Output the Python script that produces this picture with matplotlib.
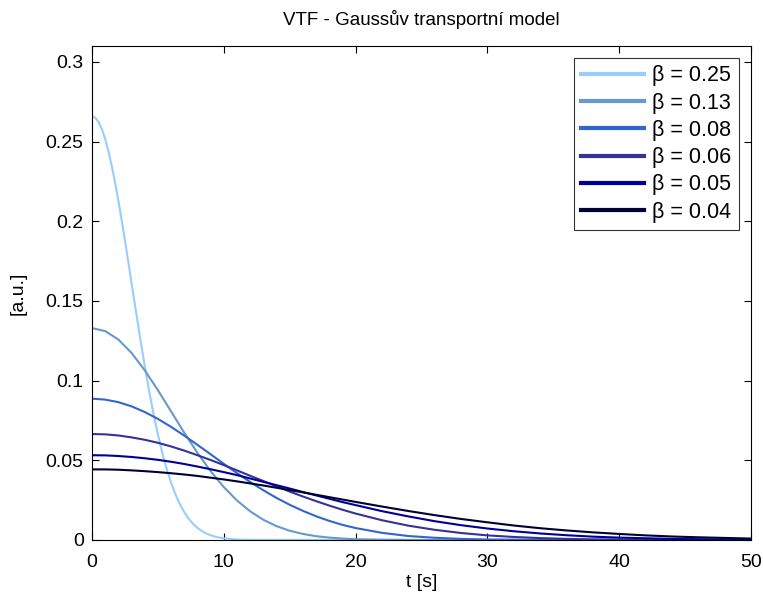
import numpy as np
import matplotlib
matplotlib.use("Agg")
import matplotlib.pyplot as plt

plt.rcParams['font.family'] = ['Liberation Sans', 'DejaVu Sans']

# values
t_fine = [0, 0.25, 0.5, 0.75, 1, 1.25, 1.5, 1.75, 2, 2.25, 2.5, 2.75, 3, 3.25, 3.5,
          3.75, 4, 4.25, 4.5, 4.75, 5, 5.25, 5.5, 5.75, 6, 6.25, 6.5, 6.75, 7, 7.25,
          7.5, 7.75, 8, 8.25, 8.5, 8.75, 9, 9.25, 9.5, 9.75, 10, 10.5, 11, 11.5, 12, 50]
y_025 = [0.2660, 0.2650, 0.2623, 0.2578, 0.2516, 0.2438, 0.2347, 0.2244, 0.2130,
         0.2008, 0.1880, 0.1747, 0.1613, 0.1479, 0.1347, 0.1218, 0.1093, 0.0975,
         0.0863, 0.0759, 0.0663, 0.0575, 0.0495, 0.0424, 0.0360, 0.0304, 0.0254,
         0.0212, 0.0175, 0.0143, 0.0117, 0.0095, 0.0076, 0.0061, 0.0048, 0.0038,
         0.0030, 0.0023, 0.0018, 0.0014, 0.0010, 0.0006, 0.0003, 0.0002, 0.0001, 0.0]

t = [0, 1, 2, 3, 4, 5, 6, 7, 8, 9, 10, 11, 12, 13, 14, 15, 16, 17, 18, 19, 20,
     22, 24, 26, 28, 30, 32, 34, 36, 38, 40, 42, 44, 46, 48, 50]
y_013 = [0.1330, 0.1311, 0.1258, 0.1174, 0.1065, 0.0940, 0.0807, 0.0673, 0.0547,
         0.0432, 0.0332, 0.0248, 0.0180, 0.0127, 0.0087, 0.0058, 0.0038, 0.0024,
         0.0015, 0.0009, 0.0005, 0.0002, 0.0, 0.0, 0.0, 0.0, 0.0, 0.0, 0.0, 0.0,
         0.0, 0.0, 0.0, 0.0, 0.0, 0.0]
y_008 = [0.0887, 0.0881, 0.0865, 0.0839, 0.0803, 0.0760, 0.0710, 0.0655, 0.0597,
         0.0538, 0.0478, 0.0420, 0.0364, 0.0312, 0.0264, 0.0221, 0.0183, 0.0149,
         0.0120, 0.0095, 0.0075, 0.0045, 0.0025, 0.0014, 0.0007, 0.0003, 0.0002,
         0.0001, 0.0, 0.0, 0.0, 0.0, 0.0, 0.0, 0.0, 0.0]
y_006 = [0.0665, 0.0663, 0.0656, 0.0644, 0.0629, 0.0610, 0.0587, 0.0561, 0.0532,
         0.0502, 0.0470, 0.0437, 0.0403, 0.0370, 0.0337, 0.0304, 0.0273, 0.0244,
         0.0216, 0.0190, 0.0166, 0.0124, 0.0090, 0.0064, 0.0044, 0.0029, 0.0019,
         0.0012, 0.0007, 0.0004, 0.0003, 0.0001, 0.0001, 0.0, 0.0, 0.0]
y_005 = [0.0532, 0.0531, 0.0527, 0.0521, 0.0513, 0.0503, 0.0491, 0.0477, 0.0461,
         0.0444, 0.0426, 0.0407, 0.0386, 0.0365, 0.0344, 0.0323, 0.0301, 0.0280,
         0.0259, 0.0238, 0.0219, 0.0181, 0.0148, 0.0118, 0.0093, 0.0072, 0.0055,
         0.0041, 0.0030, 0.0021, 0.0015, 0.0011, 0.0007, 0.0005, 0.0003, 0.0002]
y_004 = [0.0443, 0.0443, 0.0441, 0.0437, 0.0432, 0.0426, 0.0419, 0.0411, 0.0402,
         0.0391, 0.0380, 0.0368, 0.0355, 0.0342, 0.0328, 0.0313, 0.0299, 0.0284,
         0.0269, 0.0254, 0.0239, 0.0210, 0.0182, 0.0156, 0.0132, 0.0111, 0.0091,
         0.0074, 0.0060, 0.0048, 0.0038, 0.0029, 0.0022, 0.0017, 0.0013, 0.0009]

labels = ['β = 0.25', 'β = 0.13', 'β = 0.08', 'β = 0.06', 'β = 0.05', 'β = 0.04']
colors = ['#99ccff', '#6699cc', '#3366cc', '#333399', '#000099', '#000033']

fig = plt.figure(figsize=(7.63, 5.93), dpi=100)
ax = fig.add_axes([92 / 763, 53 / 593, (751 - 92) / 763, (540 - 46) / 593])

series = [(t_fine, y_025), (t, y_013), (t, y_008), (t, y_006), (t, y_005), (t, y_004)]
for (x, y), lab, c in zip(series, labels, colors):
    ax.plot(x, y, color=c, lw=1.5, label=lab)

ax.set_xlim(0, 50)
ax.set_ylim(0, 0.31)
ax.set_xticks([0, 10, 20, 30, 40, 50])
ax.set_yticks([0, 0.05, 0.1, 0.15, 0.2, 0.25, 0.3])
ax.set_yticklabels(['0', '0.05', '0.1', '0.15', '0.2', '0.25', '0.3'])
ax.tick_params(direction='in', length=5, labelsize=14, top=True, right=True)
ax.tick_params(axis='x', pad=10)
ax.tick_params(axis='y', pad=6)
for s in ax.spines.values():
    s.set_linewidth(0.8)
ax.set_xlabel('t [s]', fontsize=14, labelpad=2)
ax.set_ylabel('[a.u.]', fontsize=14, labelpad=14)
ax.set_title('VTF - Gaussův transportní model', fontsize=13.5, pad=15)

leg = ax.legend(loc='upper right', fontsize=15.5, frameon=True, fancybox=False,
                edgecolor='black', handlelength=2.9, handletextpad=0.4,
                borderaxespad=0.55, labelspacing=0.29, borderpad=0.35)
for line in leg.get_lines():
    line.set_linewidth(3)
leg.get_frame().set_linewidth(0.8)

fig.savefig('out.png', dpi=100)
